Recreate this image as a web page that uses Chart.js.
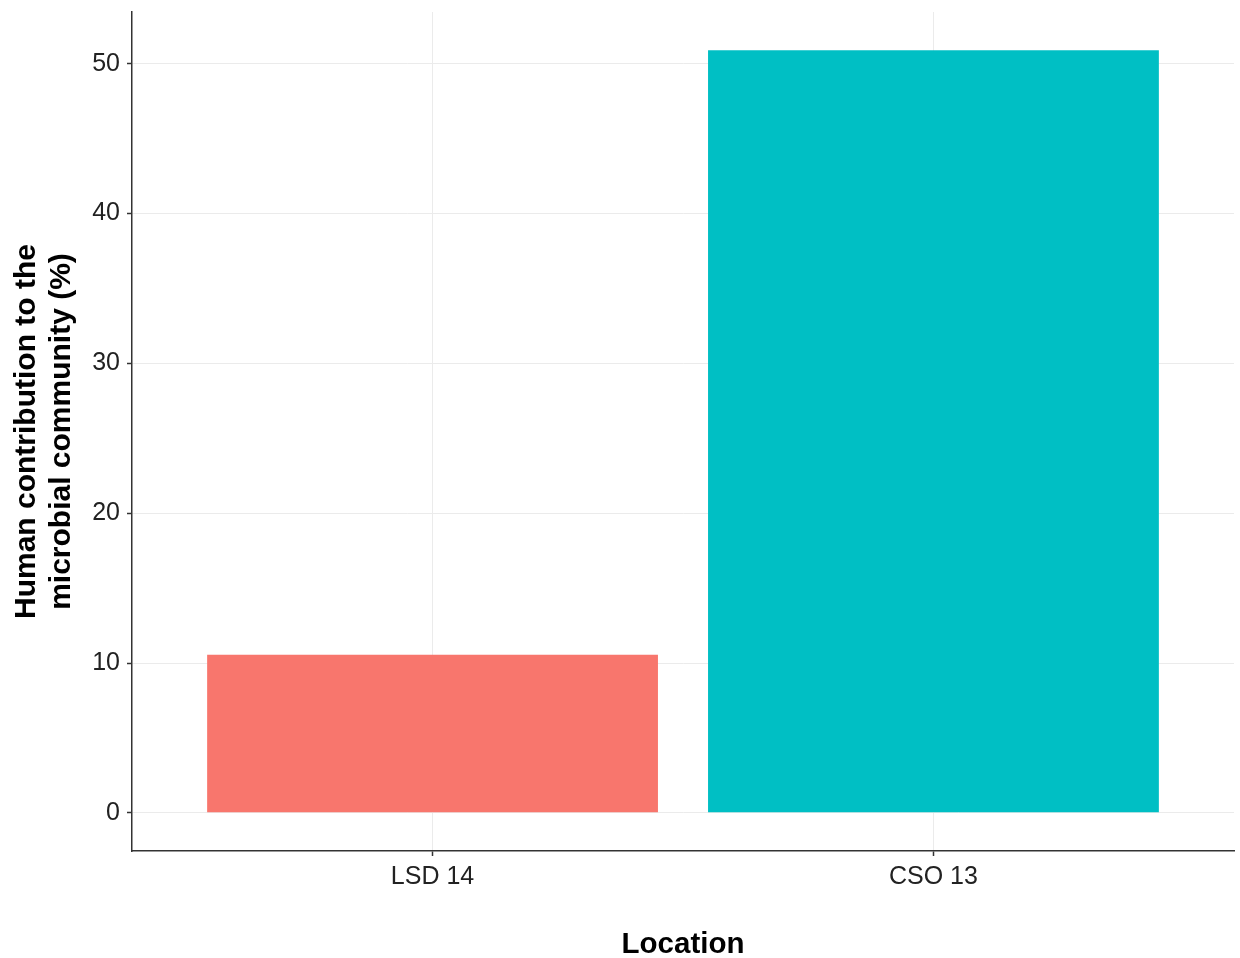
<!DOCTYPE html>
<html>
<head>
<meta charset="utf-8">
<title>Human contribution to the microbial community</title>
<script src="https://cdn.jsdelivr.net/npm/chart.js@4/dist/chart.umd.min.js"></script>
<style>
  html, body { margin: 0; padding: 0; background: #ffffff; }
  #wrap { width: 1240px; height: 958px; }
</style>
</head>
<body>
<div id="wrap"><canvas id="chart" width="1240" height="958"></canvas></div>
<script>
// Locations and their human-derived share of the community (%)
const locations = ['LSD 14', 'CSO 13'];
const humanShare = [10.55, 50.9];
const barColors = ['#F8766D', '#00BFC4'];
const yTickValues = [0, 10, 20, 30, 40, 50];

// Discrete positions 1..n on a linear axis, padded 0.6 units per side
const xPositions = locations.map((_, i) => i + 1);
const points = xPositions.map((x, i) => ({ x: x, y: humanShare[i] }));

const axisColor = '#333333';
const gridColor = '#ebebeb';
const textColor = '#222222';
const fontFamily = 'Arial, "Liberation Sans", Helvetica, sans-serif';

Chart.defaults.font.family = fontFamily;

new Chart(document.getElementById('chart'), {
  type: 'bar',
  data: {
    datasets: [{
      data: points,
      backgroundColor: barColors,
      borderWidth: 0,
      categoryPercentage: 1.0,
      barPercentage: 0.9
    }]
  },
  options: {
    responsive: false,
    animation: false,
    events: [],
    layout: { padding: { top: 12, right: 6, left: 0, bottom: 0 } },
    plugins: {
      legend: { display: false },
      tooltip: { enabled: false }
    },
    scales: {
      x: {
        type: 'linear',
        position: 'bottom',
        offset: false,
        min: 0.4,
        max: 2.6,
        afterBuildTicks: (scale) => { scale.ticks = xPositions.map(v => ({ value: v })); },
        afterFit: (scale) => {
          scale.height = 107;
          scale.paddingLeft = 0;
          scale.paddingRight = 0;
        },
        grid: {
          offset: false,
          color: gridColor,
          lineWidth: 1,
          drawTicks: true,
          tickLength: 5,
          tickColor: axisColor,
          tickWidth: 1.5
        },
        border: { display: true, color: axisColor, width: 1.5 },
        ticks: {
          color: textColor,
          font: { size: 25 },
          padding: 6,
          maxRotation: 0,
          callback: (v) => locations[Math.round(v) - 1] ?? ''
        },
        title: {
          display: true,
          text: 'Location',
          color: '#000000',
          font: { size: 29.5, weight: 'bold', lineHeight: 1 },
          padding: { top: 0, bottom: -2 }
        }
      },
      y: {
        type: 'linear',
        position: 'left',
        min: -2.545,
        max: 53.445,
        afterBuildTicks: (scale) => { scale.ticks = yTickValues.map(v => ({ value: v })); },
        afterFit: (scale) => {
          scale.width = 132;
          scale.paddingTop = 0;
          scale.paddingBottom = 0;
        },
        grid: {
          color: gridColor,
          lineWidth: 1,
          drawTicks: true,
          tickLength: 5,
          tickColor: axisColor,
          tickWidth: 1.5
        },
        border: { display: true, color: axisColor, width: 1.5 },
        ticks: {
          color: textColor,
          font: { size: 25 },
          padding: 7
        },
        title: {
          display: true,
          text: ['Human contribution to the', 'microbial community (%)'],
          color: '#000000',
          font: { size: 30, weight: 'bold', lineHeight: 1.15 },
          padding: { top: 9.5, bottom: 0 }
        }
      }
    }
  }
});
</script>
</body>
</html>
